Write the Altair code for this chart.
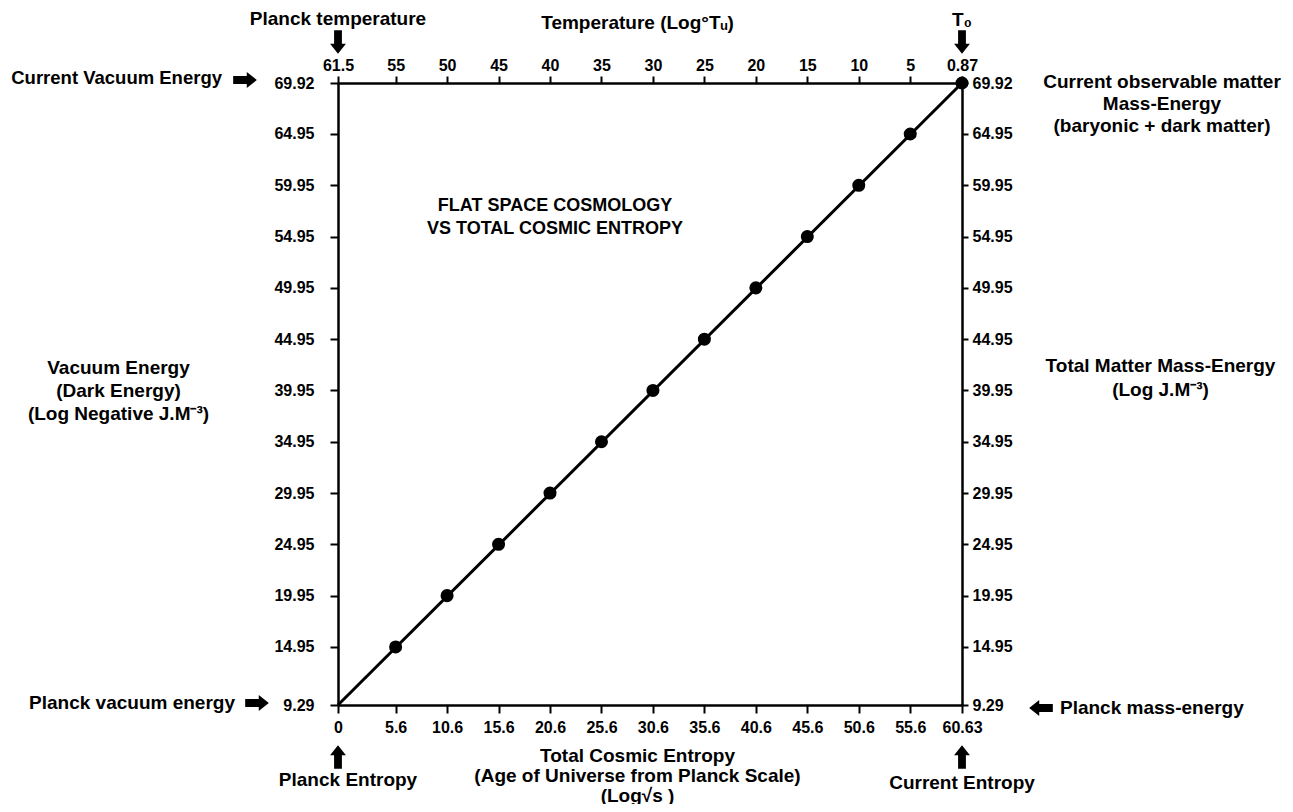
import altair as alt
import pandas as pd

# ---------------- data ----------------
entropy_ticks = [0, 5.6, 10.6, 15.6, 20.6, 25.6, 30.6, 35.6, 40.6, 45.6, 50.6, 55.6, 60.63]
temperature_labels = ["61.5", "55", "50", "45", "40", "35", "30", "25", "20", "15", "10", "5", "0.87"]
energy_ticks = [9.29, 14.95, 19.95, 24.95, 29.95, 34.95, 39.95, 44.95, 49.95, 54.95, 59.95, 64.95, 69.92]

line_entropy = [0, 60.63]
line_energy = [9.29, 69.92]

point_entropy = [5.6, 10.6, 15.6, 20.6, 25.6, 30.6, 35.6, 40.6, 45.6, 50.6, 55.6, 60.63]
point_energy = [14.95, 19.95, 24.95, 29.95, 34.95, 39.95, 44.95, 49.95, 54.95, 59.95, 64.95, 69.92]

FONT = "Liberation Sans"
TICK_FS = 16
ANN_FS = 19

ARROW_PATH = "M-1,-0.33 L0.15,-0.33 L0.15,-0.67 L1,0 L0.15,0.67 L0.15,0.33 L-1,0.33 Z"

x_scale = alt.Scale(domain=[0, 60.63], nice=False, zero=False)
y_scale = alt.Scale(domain=[9.29, 69.92], nice=False, zero=False)

common_axis = dict(
    grid=False,
    domainColor="black",
    domainWidth=2.5,
    tickColor="black",
    tickWidth=2,
    labelFont=FONT,
    labelFontSize=TICK_FS,
    labelFontWeight="bold",
    labelColor="black",
    labelFlush=False,
    labelOverlap=False,
    titleFont=FONT,
    titleFontSize=ANN_FS,
    titleFontWeight="bold",
    titleColor="black",
    titleAngle=0,
    titleAlign="center",
    titleBaseline="middle",
)

temp_expr = ("[" + ",".join("'" + t + "'" for t in temperature_labels) + "]"
             "[indexof([" + ",".join(str(v) for v in entropy_ticks) + "], datum.value)]")

line_df = pd.DataFrame({"entropy": line_entropy, "energy": line_energy})
point_df = pd.DataFrame({"entropy": point_entropy, "energy": point_energy})

line = alt.Chart(line_df).mark_line(color="black", strokeWidth=3).encode(
    x=alt.X("entropy:Q", scale=x_scale, axis=alt.Axis(
        orient="bottom", values=entropy_ticks, labelExpr="'' + datum.value",
        tickSize=8, labelPadding=6,
        title=["Total Cosmic Entropy", "(Age of Universe from Planck Scale)", "(Log\u221as )"],
        titleX=299, titleY=50, titleLineHeight=20, **common_axis)),
    y=alt.Y("energy:Q", scale=y_scale, axis=alt.Axis(
        orient="left", values=energy_ticks, format=".2f",
        tickSize=8, labelPadding=16,
        title=["Vacuum Energy", "(Dark Energy)", "(Log Negative J.M\u207b\u00b3)"],
        titleX=-220, titleY=284, titleLineHeight=23, **common_axis)),
)

points = alt.Chart(point_df).mark_circle(color="black", opacity=1, size=170).encode(
    x=alt.X("entropy:Q", scale=x_scale, axis=alt.Axis(
        orient="top", values=entropy_ticks, labelExpr=temp_expr,
        tickSize=7, labelPadding=3,
        title="Temperature (Log\u00b0T\u1d64)",
        titleX=299, titleY=-61, **common_axis)),
    y=alt.Y("energy:Q", scale=y_scale, axis=alt.Axis(
        orient="right", values=energy_ticks, format=".2f",
        tickSize=6, labelPadding=4,
        title=["Total Matter Mass-Energy", "(Log J.M\u207b\u00b3)"],
        titleX=198, titleY=282, titleLineHeight=24, **common_axis)),
)


def ann(text, x, y, dx=0, dy=0, align="center", size=ANN_FS, line_height=22):
    df = pd.DataFrame({"t": [text]})
    return alt.Chart(df).mark_text(
        font=FONT, fontSize=size, fontWeight="bold", color="black",
        align=align, baseline="middle", dx=dx, dy=dy,
        lineBreak="\n", lineHeight=line_height,
    ).encode(
        x=alt.X(datum=x, scale=x_scale, axis=None),
        y=alt.Y(datum=y, scale=y_scale, axis=None),
        text="t:N",
    )


def arrow(x, y, dx, dy, angle, size=560):
    return alt.Chart(pd.DataFrame({"a": [0]})).mark_point(
        shape=ARROW_PATH, filled=True, color="black", opacity=1,
        size=size, angle=angle, xOffset=dx, yOffset=dy, strokeWidth=0,
    ).encode(
        x=alt.X(datum=x, scale=x_scale, axis=None),
        y=alt.Y(datum=y, scale=y_scale, axis=None),
    )


X0, X1 = entropy_ticks[0], entropy_ticks[-1]
Y0, Y1 = energy_ticks[0], energy_ticks[-1]

annotations = [
    ann("Planck temperature", X0, Y1, dy=-64),
    arrow(X0, Y1, 0, -41, 90),
    ann("T\u2080", X1, Y1, dy=-63),
    arrow(X1, Y1, 0, -41, 90),
    ann("Current Vacuum Energy", X0, Y1, dx=-116, dy=-5, align="right", size=18.5),
    arrow(X0, Y1, -93, -3, 0),
    ann("Planck vacuum energy", X0, Y0, dx=-103, dy=-2, align="right"),
    arrow(X0, Y0, -81, -2, 0),
    ann("Planck Entropy", X0, Y0, dx=10, dy=75),
    arrow(X0, Y0, 0, 52, 270),
    ann("Current Entropy", X1, Y0, dy=78),
    arrow(X1, Y0, 0, 52, 270),
    arrow(X1, Y0, 79, 3, 180),
    ann("Planck mass-energy", X1, Y0, dx=98, dy=3, align="left"),
    ann("Current observable matter\nMass-Energy\n(baryonic + dark matter)", X1, Y1, dx=200, dy=-1),
    ann("FLAT SPACE COSMOLOGY\nVS TOTAL COSMIC ENTROPY", X0, Y1, dx=217, dy=123, size=18, line_height=23),
]

chart = alt.layer(line, points, *annotations).resolve_scale(
    x="shared", y="shared"
).resolve_axis(
    x="independent", y="independent"
).properties(
    width=624, height=622,
    autosize=alt.AutoSizeParams(type="none"),
    padding={"left": 330, "top": 75, "right": 323, "bottom": 99},
).configure_view(strokeWidth=0).configure(background="white")

chart.save("out.html", embed_options={"renderer": "svg", "actions": False})
